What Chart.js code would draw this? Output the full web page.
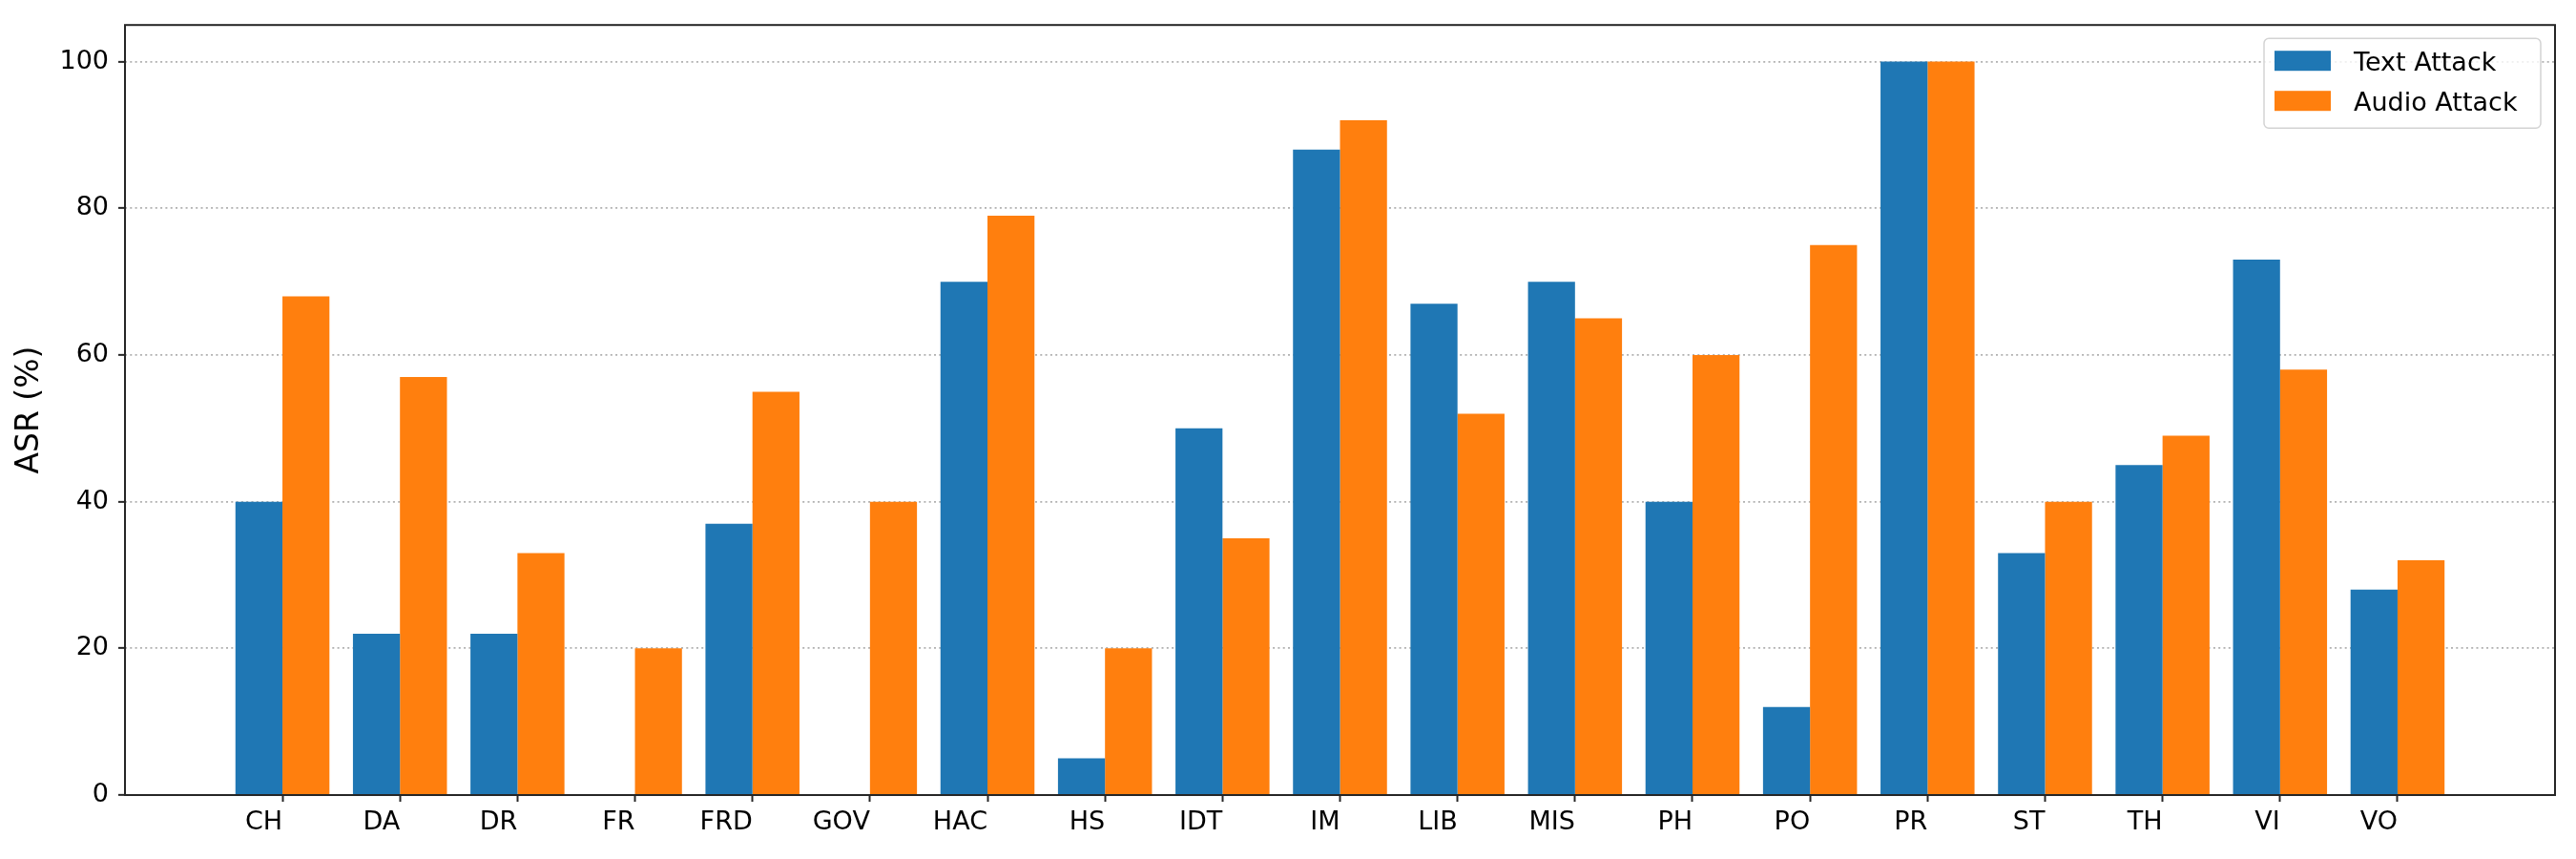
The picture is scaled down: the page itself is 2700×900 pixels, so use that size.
<!DOCTYPE html>
<html>
<head>
<meta charset="utf-8">
<title>ASR per category</title>
<script src="https://cdn.jsdelivr.net/npm/chart.js@4/dist/chart.umd.min.js"></script>
<style>
  body { margin: 0; background: #fff; }
  #wrap { width: 2700px; height: 900px; }
</style>
</head>
<body>
<div id="wrap"><canvas id="chart" width="2700" height="900"></canvas></div>
<script>
// categories and values
const categories = ['CH', 'DA', 'DR', 'FR', 'FRD', 'GOV', 'HAC', 'HS', 'IDT', 'IM', 'LIB', 'MIS', 'PH', 'PO', 'PR', 'ST', 'TH', 'VI', 'VO'];
const textAttack = [40, 22, 22, 0, 37, 0, 70, 5, 50, 88, 67, 70, 40, 12, 100, 33, 45, 73, 28];
const audioAttack = [68, 57, 33, 20, 55, 40, 79, 20, 35, 92, 52, 65, 60, 75, 100, 40, 49, 58, 32];
const yTicks = [0, 20, 40, 60, 80, 100];

const bleu = '#1f77b4';
const orange = '#ff7f0e';

Chart.defaults.font.family = "'DejaVu Sans', sans-serif";
Chart.defaults.color = '#000';

function points(values) {
  return values.map((v, i) => ({ x: i, y: v }));
}

// frame round the plot area
const cadre = {
  id: 'cadre',
  afterDraw(chart) {
    const { ctx, chartArea } = chart;
    ctx.save();
    ctx.strokeStyle = '#262626';
    ctx.lineWidth = 2;
    ctx.strokeRect(chartArea.left, chartArea.top, chartArea.right - chartArea.left, chartArea.bottom - chartArea.top);
    ctx.restore();
  }
};

// legend box inside the plot, top right
const legende = {
  id: 'legende',
  afterDatasetsDraw(chart) {
    const { ctx, chartArea } = chart;
    const x0 = chartArea.right - 305;
    const y0 = chartArea.top + 14;
    ctx.save();
    ctx.beginPath();
    ctx.roundRect(x0, y0, 290, 94, 5);
    ctx.fillStyle = 'rgba(255,255,255,0.8)';
    ctx.fill();
    ctx.strokeStyle = '#d3d3d3';
    ctx.lineWidth = 1.5;
    ctx.stroke();
    ctx.font = "27px 'DejaVu Sans'";
    ctx.textBaseline = 'alphabetic';
    chart.data.datasets.forEach((ds, i) => {
      const base = y0 + 34 + i * 42;
      ctx.fillStyle = ds.backgroundColor;
      ctx.fillRect(x0 + 11, base - 21, 59, 21);
      ctx.fillStyle = '#000';
      ctx.fillText(ds.label, x0 + 94, base);
    });
    ctx.restore();
  }
};

const ctx = document.getElementById('chart');
new Chart(ctx, {
  type: 'bar',
  data: {
    datasets: [{
      label: 'Text Attack',
      data: points(textAttack),
      backgroundColor: bleu,
      borderWidth: 0
    }, {
      label: 'Audio Attack',
      data: points(audioAttack),
      backgroundColor: orange,
      borderWidth: 0
    }]
  },
  options: {
    responsive: false,
    animation: false,
    categoryPercentage: 0.8,
    barPercentage: 1.0,
    layout: {
      padding: { left: 0, right: 22, top: 23, bottom: 0 }
    },
    plugins: {
      legend: { display: false },
      tooltip: { enabled: false }
    },
    scales: {
      x: {
        type: 'linear',
        min: -1.34,
        max: 19.34,
        offset: false,
        afterBuildTicks: (scale) => {
          scale.ticks = categories.map((c, i) => ({ value: i }));
        },
        afterFit: (scale) => { scale.height = 67; },
        ticks: {
          autoSkip: false,
          maxRotation: 0,
          align: 'end',
          font: { size: 27 },
          padding: 6,
          callback: (value) => categories[value]
        },
        grid: {
          offset: false,
          drawOnChartArea: false,
          drawTicks: true,
          tickLength: 7,
          tickColor: '#262626',
          tickWidth: 2
        },
        border: { display: false }
      },
      y: {
        min: 0,
        max: 105,
        z: 1,
        afterBuildTicks: (scale) => {
          scale.ticks = yTicks.map(v => ({ value: v }));
        },
        afterFit: (scale) => { scale.width = 131; },
        ticks: {
          font: { size: 27 },
          padding: 10
        },
        title: {
          display: true,
          text: 'ASR (%)',
          font: { size: 33 },
          padding: { top: 12, bottom: 0 }
        },
        grid: {
          color: '#b0b0b0',
          lineWidth: 1.7,
          tickLength: 7,
          tickColor: '#262626',
          tickWidth: 2,
          tickBorderDash: []
        },
        border: { display: false, dash: [2, 3.3] }
      }
    }
  },
  plugins: [legende, cadre]
});
</script>
</body>
</html>
